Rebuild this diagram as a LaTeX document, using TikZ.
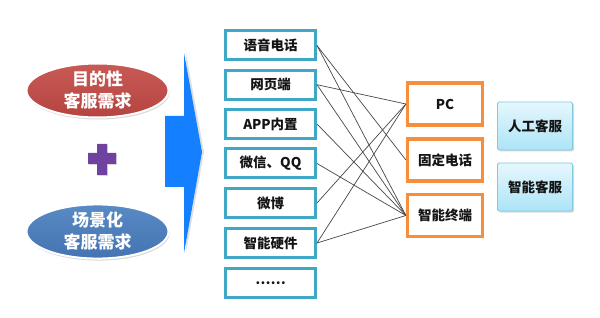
\documentclass[tikz,border=0pt]{standalone}
\usepackage{fontspec}
\setmainfont{Noto Sans CJK SC}
\usetikzlibrary{shapes.geometric,shadows}
\definecolor{lblue}{RGB}{62,168,198}
\definecolor{orng}{RGB}{247,142,60}
\definecolor{redT}{RGB}{200,90,86}
\definecolor{redB}{RGB}{182,68,64}
\definecolor{blueT}{RGB}{88,138,196}
\definecolor{blueB}{RGB}{68,116,178}
\definecolor{arrowblue}{RGB}{20,128,255}
\definecolor{plumc}{RGB}{112,66,160}
\definecolor{cyanT}{RGB}{230,247,253}
\definecolor{cyanB}{RGB}{172,228,247}
\definecolor{cyanD}{RGB}{130,200,224}
\definecolor{txt}{RGB}{20,20,20}
\begin{document}
\begin{tikzpicture}[x=1pt,y=-1pt,
  lbox/.style={draw=lblue,line width=3pt,fill=white,minimum width=90pt,minimum height=29pt,inner sep=0pt,text=txt,font=\fontsize{13.5}{16}\selectfont\bfseries},
  obox/.style={draw=orng,line width=3.2pt,fill=white,minimum width=75pt,minimum height=42pt,inner sep=0pt,text=txt,font=\fontsize{13.5}{16}\selectfont\bfseries},
  cbox/.style={draw=cyanD,line width=0.8pt,top color=cyanT,bottom color=cyanB,rounded corners=1.5pt,minimum width=75pt,minimum height=48pt,inner sep=0pt,text=txt,font=\fontsize{13.5}{16}\selectfont\bfseries,drop shadow={shadow xshift=1.5pt,shadow yshift=-1.5pt,opacity=0.3}},
  oval/.style={ellipse,draw=white,line width=2pt,minimum width=142pt,minimum height=52pt,inner sep=0pt,text=white,align=center,font=\fontsize{17}{22}\selectfont\bfseries,drop shadow={shadow xshift=1pt,shadow yshift=-2pt,opacity=0.3}},
  link/.style={draw=black!72,line width=0.7pt}]
\useasboundingbox (0,0) rectangle (600,318);
\fill[white] (0,0) rectangle (600,318);

% ellipses
\node[oval,top color=redT,bottom color=redB] (need1) at (97.5,90.5) {目的性\\客服需求};
\node[oval,top color=blueT,bottom color=blueB] (need2) at (97.5,231.5) {场景化\\客服需求};

% plus sign
\fill[plumc,drop shadow={shadow xshift=0.8pt,shadow yshift=-0.8pt,opacity=0.3}] (97,144) -- (107,144) -- (107,153) -- (116,153) -- (116,164) -- (107,164) -- (107,175) -- (97,175) -- (97,164) -- (88,164) -- (88,153) -- (97,153) -- cycle;

% big arrow
\fill[arrowblue,drop shadow={shadow xshift=2pt,shadow yshift=0pt,opacity=0.25}] (165,116) -- (184,116) -- (184,53) -- (202,152) -- (184,253) -- (184,187) -- (165,187) -- cycle;

% channel boxes
\node[lbox] (c1) at (270.5,45.5) {语音电话};
\node[lbox] (c2) at (270.5,84.7) {网页端};
\node[lbox] (c3) at (270.5,124) {APP内置};
\node[lbox] (c4) at (270.5,163.5) {微信、QQ};
\node[lbox] (c5) at (270.5,203) {微博};
\node[lbox] (c6) at (270.5,243) {智能硬件};
\node[lbox] (c7) at (270.5,283) {……};

% terminal boxes
\node[obox] (t1) at (445,104) {PC};
\node[obox] (t2) at (445,160) {固定电话};
\node[obox] (t3) at (445,215.5) {智能终端};

% service boxes
\node[cbox] (s1) at (535,126) {人工客服};
\node[cbox] (s2) at (535,187) {智能客服};

% links
\draw[link] (c1.east) -- (t2.west);
\draw[link] (c1.east) -- (t3.west);
\draw[link] (c2.east) -- (t1.west);
\draw[link] (c2.east) -- (t3.west);
\draw[link] (c3.east) -- (t3.west);
\draw[link] (c4.east) -- (t3.west);
\draw[link] (c5.east) -- (t1.west);
\draw[link] (c6.east) -- (t1.west);
\draw[link] (c6.east) -- (t3.west);
\end{tikzpicture}
\end{document}
